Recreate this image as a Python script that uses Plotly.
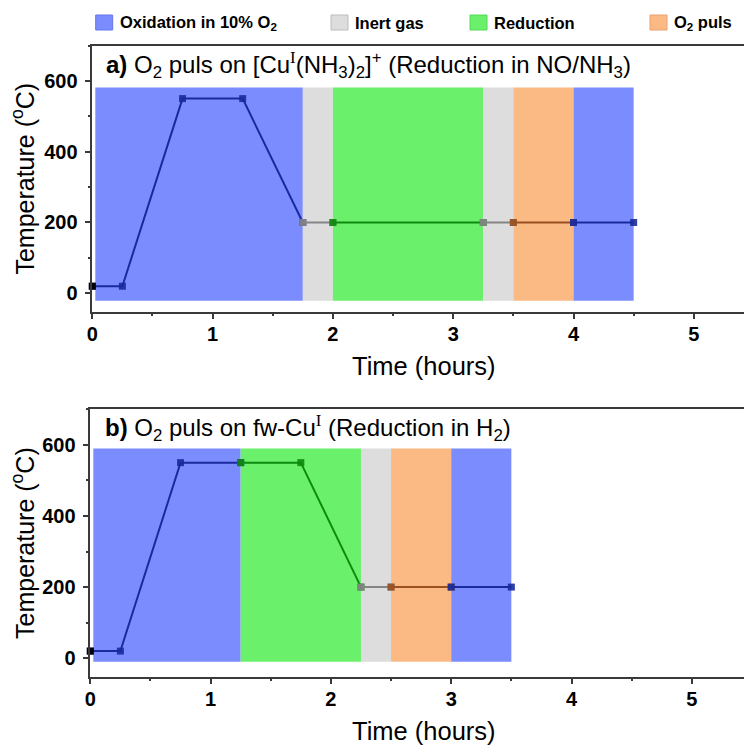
import plotly.graph_objects as go

W, H = 744, 745

# Phase definitions shared by both panels
phase_names = ["Oxidation in 10% O<sub>2</sub>", "Inert gas", "Reduction", "O<sub>2</sub> puls"]
phase_fill = ["#7B8CFF", "#DDDDDD", "#6AF06A", "#FBB984"]
phase_line = ["#1A2A9E", "#858585", "#0E8A0E", "#9A5020"]
phase_edge = ["#6676E8", "#BBBBBB", "#55D855", "#E8A070"]

# Panel a: O2 pulse on [Cu(NH3)2]+ (reduction in NO/NH3)
time_a = [0, 0.25, 0.75, 1.25, 1.75, 2.0, 3.25, 3.5, 4.0, 4.5]
temp_a = [20, 20, 550, 550, 200, 200, 200, 200, 200, 200]
bounds_a = [0, 1.75, 2.0, 3.25, 3.5, 4.0, 4.5]
phases_a = [0, 1, 2, 1, 3, 0]
band_a = [-21, 581]

# Panel b: O2 pulse on fw-Cu (reduction in H2)
time_b = [0, 0.25, 0.75, 1.25, 1.75, 2.25, 2.5, 3.0, 3.5]
temp_b = [20, 20, 550, 550, 550, 200, 200, 200, 200]
bounds_b = [0, 1.25, 2.25, 2.5, 3.0, 3.5]
phases_b = [0, 2, 1, 3, 0]
band_b = [-10, 590]

ROMAN_I = "<span style='font-family:Liberation Serif, Times New Roman, serif'>I</span>"
titles = [
    "<b>a)</b> O<sub>2</sub> puls on [Cu<sup>" + ROMAN_I + "</sup>(NH<sub>3</sub>)<sub>2</sub>]<sup>+</sup> (Reduction in NO/NH<sub>3</sub>)",
    "<b>b)</b> O<sub>2</sub> puls on fw-Cu<sup>" + ROMAN_I + "</sup> (Reduction in H<sub>2</sub>)",
]

FONT = "Liberation Sans, Arial, sans-serif"
AXC = "#3a3a3a"

# panel geometry in pixels: (left, top, bottom)
panels = [
    dict(left=92.3, top=45.5, bottom=311.7, xs="x", ys="y"),
    dict(left=90.3, top=409.3, bottom=676.7, xs="x2", ys="y2"),
]
PX_PER_HOUR = 120.3
Y_RANGE = [-52, 700]

fig = go.Figure()
shapes = []
annotations = []

datasets = [
    (time_a, temp_a, bounds_a, phases_a, band_a),
    (time_b, temp_b, bounds_b, phases_b, band_b),
]

for k, (t, T, bounds, phases, band) in enumerate(datasets):
    p = panels[k]
    # coloured background bands for each phase
    for i, ph in enumerate(phases):
        x0 = bounds[i] if i > 0 else bounds[i] + 0.025
        shapes.append(dict(
            type="rect", xref=p["xs"], yref=p["ys"],
            x0=x0, x1=bounds[i + 1], y0=band[0], y1=band[1],
            fillcolor=phase_fill[ph], line=dict(width=0), layer="below",
        ))
    # temperature programme, one segment per phase
    for i, ph in enumerate(phases):
        lo, hi = bounds[i], bounds[i + 1]
        xs = [tt for tt in t if lo <= tt <= hi]
        ys = [TT for tt, TT in zip(t, T) if lo <= tt <= hi]
        fig.add_trace(go.Scatter(
            x=xs, y=ys, mode="lines+markers", xaxis=p["xs"], yaxis=p["ys"],
            line=dict(color=phase_line[ph], width=2),
            marker=dict(symbol="square", size=7, color=phase_line[ph], opacity=0.9),
            cliponaxis=False, showlegend=False, hoverinfo="skip",
        ))
    # starting point
    fig.add_trace(go.Scatter(
        x=[t[0]], y=[T[0]], mode="markers", xaxis=p["xs"], yaxis=p["ys"],
        marker=dict(symbol="square", size=7, color="black"),
        cliponaxis=False, showlegend=False, hoverinfo="skip",
    ))
    # panel title
    annotations.append(dict(
        text=titles[k], xref="paper", yref="paper",
        x=(104 if k == 0 else 103) / W, y=1 - (p["top"] + 19) / H,
        xanchor="left", yanchor="middle", showarrow=False,
        font=dict(family=FONT, size=24, color="black"),
    ))
    # axis titles
    annotations.append(dict(
        text="Temperature (<sup>o</sup>C)", xref="paper", yref="paper",
        x=23 / W, y=1 - (p["top"] + p["bottom"]) / 2 / H, textangle=-90,
        xanchor="center", yanchor="middle", showarrow=False,
        font=dict(family=FONT, size=25, color="black"),
    ))
    annotations.append(dict(
        text="Time (hours)", xref="paper", yref="paper",
        x=424 / W, y=1 - (p["bottom"] + 54) / H,
        xanchor="center", yanchor="middle", showarrow=False,
        font=dict(family=FONT, size=25.5, color="black"),
    ))

# phase legend along the top
legend_x = [95.7, 331, 470, 650]
for ph, lx in enumerate(legend_x):
    shapes.append(dict(
        type="rect", xref="paper", yref="paper",
        x0=lx / W, x1=(lx + 17) / W, y0=1 - 30 / H, y1=1 - 15 / H,
        fillcolor=phase_fill[ph], line=dict(color=phase_edge[ph], width=1),
    ))
    annotations.append(dict(
        text="<b>" + phase_names[ph] + "</b>", xref="paper", yref="paper",
        x=(lx + 22) / W, y=1 - 23 / H, xanchor="left", yanchor="middle",
        showarrow=False, font=dict(family=FONT, size=16.5, color="black"),
    ))

layout = dict(
    template="none",
    width=W, height=H, margin=dict(l=0, r=0, t=0, b=0, pad=0), autosize=False,
    plot_bgcolor="white", paper_bgcolor="white",
    shapes=shapes, annotations=annotations, showlegend=False,
)

for k, p in enumerate(panels):
    xname = "xaxis" if k == 0 else "xaxis2"
    yname = "yaxis" if k == 0 else "yaxis2"
    width_px = W - p["left"]
    layout[xname] = dict(
        domain=[p["left"] / W, 1], anchor=p["ys"], automargin=False,
        range=[0, width_px / PX_PER_HOUR],
        tickmode="linear", tick0=0, dtick=1,
        ticks="outside", ticklen=6, tickwidth=1.5, tickcolor=AXC,
        minor=dict(dtick=0.5, ticks="outside", ticklen=3, tickwidth=1.5, tickcolor=AXC,
                   showgrid=False),
        showline=True, linecolor=AXC, linewidth=1.5, mirror=True,
        showgrid=False, zeroline=False, ticklabelstandoff=-2,
        tickfont=dict(family=FONT, size=20, color="black", weight="bold"),
    )
    layout[yname] = dict(
        domain=[1 - p["bottom"] / H, 1 - p["top"] / H], anchor=p["xs"], automargin=False,
        range=Y_RANGE, tickmode="linear", tick0=0, dtick=200,
        ticks="outside", ticklen=6, tickwidth=1.5, tickcolor=AXC,
        minor=dict(dtick=100, ticks="outside", ticklen=3, tickwidth=1.5, tickcolor=AXC,
                   showgrid=False),
        showline=True, linecolor=AXC, linewidth=1.5, mirror=False,
        showgrid=False, zeroline=False, ticklabelstandoff=3,
        tickfont=dict(family=FONT, size=20, color="black", weight="bold"),
    )

fig.update_layout(**layout)
fig.write_html("out.html")
